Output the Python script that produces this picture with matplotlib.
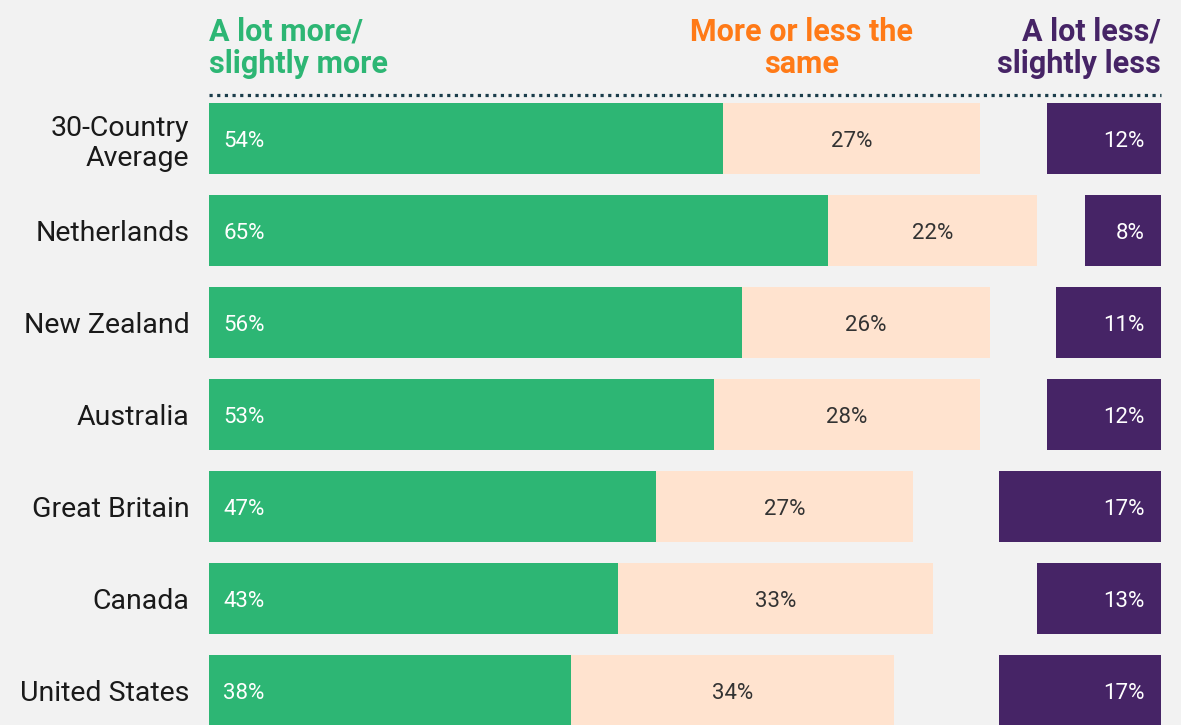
import numpy as np
import matplotlib.pyplot as plt

paises = ["30-Country\nAverage", "Netherlands", "New Zealand", "Australia",
          "Great Britain", "Canada", "United States"]
mais = [54, 65, 56, 53, 47, 43, 38]
igual = [27, 22, 26, 28, 27, 33, 34]
menos = [12, 8, 11, 12, 17, 13, 17]

cor_verde = "#2db674"
cor_pessego = "#ffe3cf"
cor_roxo = "#462466"
cor_laranja = "#ff7a17"
fundo = "#f2f2f2"

plt.rcParams['font.family'] = ['Roboto', 'DejaVu Sans']

fig = plt.figure(figsize=(11.81, 7.25), dpi=100, facecolor=fundo)
ax = fig.add_axes([209 / 1181, 0, (1161 - 209) / 1181, (725 - 95) / 725])
ax.set_facecolor(fundo)

y = np.arange(len(paises))
altura = 0.77
mais = np.array(mais)
igual = np.array(igual)
menos = np.array(menos)

ax.barh(y, mais, height=altura, color=cor_verde)
ax.barh(y, igual, left=mais, height=altura, color=cor_pessego)
ax.barh(y, menos, left=100 - menos, height=altura, color=cor_roxo)

for i in range(len(paises)):
    ax.text(1.5, y[i], f"{mais[i]}%", color="white", fontsize=16,
            va="center_baseline", ha="left")
    ax.text(mais[i] + igual[i] / 2, y[i], f"{igual[i]}%", color="#333333",
            fontsize=16, va="center_baseline", ha="center")
    ax.text(98.3, y[i], f"{menos[i]}%", color="white", fontsize=16,
            va="center_baseline", ha="right")

ax.set_xlim(0, 100)
ax.set_ylim(6.375, -0.473)
ax.set_yticks(y)
ax.set_yticklabels(paises, fontsize=20.5, color="#1a1a1a", linespacing=1.15)
ax.tick_params(axis="y", length=0, pad=14)
ax.set_xticks([])
for s in ax.spines.values():
    s.set_visible(False)

# linha pontilhada no topo
ax.plot([0, 1], [1, 1], transform=ax.transAxes, clip_on=False,
        color="#1b3d4b", lw=2.3, linestyle=(0, (1, 1.4)),
        dash_capstyle="butt")

# cabeçalhos das colunas
ax.text(0, 1.025, "A lot more/\nslightly more", transform=ax.transAxes,
        color=cor_verde, fontsize=22, fontweight="bold", ha="left",
        va="bottom", linespacing=1.1)
ax.text(0.622, 1.025, "More or less the\nsame", transform=ax.transAxes,
        color=cor_laranja, fontsize=22, fontweight="bold", ha="center",
        va="bottom", linespacing=1.1, multialignment="center")
ax.text(1, 1.025, "A lot less/\nslightly less", transform=ax.transAxes,
        color=cor_roxo, fontsize=22, fontweight="bold", ha="right",
        va="bottom", linespacing=1.1, multialignment="right")

fig.savefig("out.png", dpi=100, facecolor=fundo)
